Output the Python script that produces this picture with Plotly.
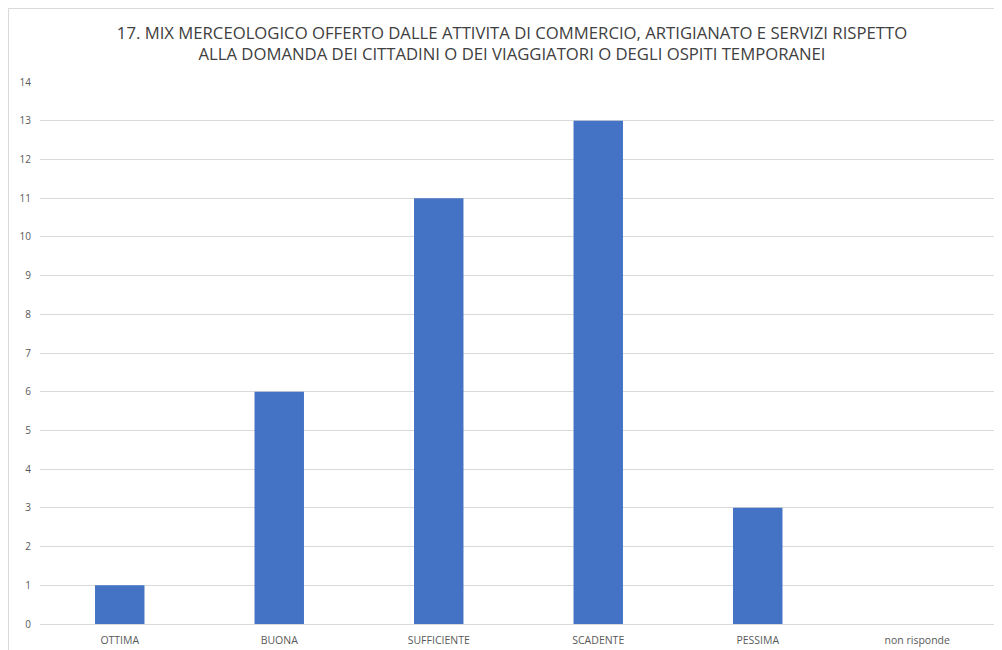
import plotly.graph_objects as go

categories = ["OTTIMA", "BUONA", "SUFFICIENTE", "SCADENTE", "PESSIMA", "non risponde"]
values = [1, 6, 11, 13, 3, 0]
y_ticks = list(range(0, 15))

title_text = ("17. MIX MERCEOLOGICO OFFERTO DALLE ATTIVITA DI COMMERCIO, ARTIGIANATO E SERVIZI RISPETTO"
              "<br>ALLA DOMANDA DEI CITTADINI O DEI VIAGGIATORI O DEGLI OSPITI TEMPORANEI")

fig = go.Figure(go.Bar(
    x=categories, y=values,
    marker=dict(color="#4472C4", line=dict(width=0)),
    width=0.31,
))

OFF = 8  # page offset of the figure
W, H = 1002, 650
L, R, T, B = 40 - OFF, OFF + W - 997, 82 - OFF, OFF + H - 624
pw, ph = W - L - R, H - T - B

fig.update_layout(
    width=W, height=H,
    margin=dict(l=L, r=R, t=T, b=B),
    paper_bgcolor="white", plot_bgcolor="white",
    font=dict(family="Open Sans, Liberation Sans, sans-serif", color="#595959"),
    title=dict(text=title_text, x=(512 - OFF) / W, xanchor="center",
               y=1 - (38.5 - OFF) / H, yanchor="middle",
               font=dict(size=16.7, color="#404040")),
    showlegend=False,
    xaxis=dict(showgrid=False, showline=False, ticks="", tickfont=dict(size=10.5, color="#595959"),
               ticklabelstandoff=8),
    yaxis=dict(range=[0, 14], tickvals=y_ticks, showgrid=True, gridcolor="#D9D9D9", gridwidth=1,
               zeroline=True, zerolinecolor="#D9D9D9", zerolinewidth=1,
               tickfont=dict(size=10, color="#595959"), ticks="", ticklabelstandoff=8),
    shapes=[dict(type="rect", xref="paper", yref="paper",
                 x0=(0.5 - L) / pw, x1=(1000 - OFF - L) / pw,
                 y0=-(H - 2 - (H - B)) / ph, y1=1 + (T - 0.5) / ph,
                 line=dict(color="#D9D9D9", width=1), fillcolor="rgba(0,0,0,0)", layer="below")],
)

fig.write_html("out.html")
